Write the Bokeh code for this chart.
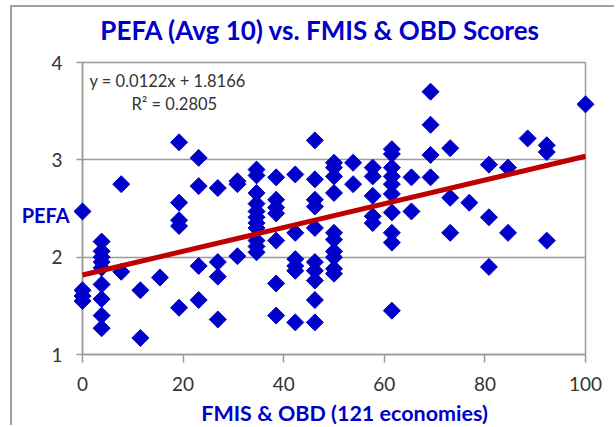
import numpy as np
from bokeh.plotting import figure
from bokeh.models import Range1d, FixedTicker, ColumnDataSource
from bokeh.embed import file_html
from bokeh.resources import INLINE
from bokeh.core.properties import value

# ---- data ----
fmis_obd = (
    [0.0] * 4 + [3.8] * 9 + [7.7] * 2 + [11.5] * 2 + [15.4] * 1 + [19.2] * 5 +
    [23.1] * 4 + [26.9] * 4 + [30.8] * 3 + [34.6] * 11 + [38.5] * 7 + [42.3] * 6 +
    [46.2] * 10 + [50.0] * 10 + [53.8] * 2 + [57.7] * 5 + [61.5] * 10 + [65.4] * 2 +
    [69.2] * 4 + [73.1] * 3 + [76.9] * 1 + [80.8] * 3 + [84.6] * 2 + [88.5] * 1 +
    [92.3] * 3 + [100.0] * 1
)
pefa = [
    2.47, 1.66, 1.60, 1.55,
    2.16, 2.06, 2.00, 1.95, 1.89, 1.72, 1.57, 1.40, 1.27,
    2.75, 1.85,
    1.66, 1.17,
    1.79,
    3.18, 2.56, 2.38, 2.32, 1.48,
    3.02, 2.73, 1.91, 1.56,
    2.71, 1.95, 1.80, 1.36,
    2.78, 2.75, 2.01,
    2.90, 2.84, 2.66, 2.55, 2.47, 2.41, 2.35, 2.30, 2.17, 2.11, 2.05,
    2.82, 2.59, 2.51, 2.45, 2.17, 1.73, 1.40,
    2.85, 2.25, 1.98, 1.91, 1.86, 1.33,
    3.20, 2.80, 2.59, 2.52, 2.30, 1.95, 1.86, 1.76, 1.56, 1.33,
    2.97, 2.92, 2.83, 2.66, 2.25, 2.18, 2.06, 2.00, 1.88, 1.83,
    2.97, 2.75,
    2.92, 2.83, 2.63, 2.42, 2.35,
    3.11, 3.06, 2.92, 2.83, 2.75, 2.65, 2.46, 2.25, 2.15, 1.45,
    2.82, 2.47,
    3.70, 3.36, 3.05, 2.82,
    3.12, 2.61, 2.25,
    2.56,
    2.95, 2.41, 1.90,
    2.92, 2.25,
    3.22,
    3.15, 3.08, 2.17,
    3.57,
]
trend_slope = 0.0122
trend_intercept = 1.8166
trend_x = [0, 100]
x_ticks = [0, 20, 40, 60, 80, 100]
y_ticks = [1, 2, 3, 4]
title_text = "PEFA (Avg 10) vs. FMIS & OBD Scores"
x_title = "FMIS & OBD (121 economies)"
y_title = "PEFA"
eq_text = "y = 0.0122x + 1.8166"
r2_text = "R² = 0.2805"

FONT = "Lato"
BLUE = "#0000C8"
GRID = "#9a9a9a"
TXT = "#333333"

p = figure(width=604, height=420, x_range=Range1d(0, 100), y_range=Range1d(1, 4),
           output_backend="svg", toolbar_location=None,
           min_border_left=70, min_border_right=31, min_border_top=55, min_border_bottom=73)
p.styles = {"margin-left": "10px", "margin-top": "5px",
            "border-left": "2px solid #a0a0a0", "border-top": "2px solid #a0a0a0"}
p.background_fill_color = "white"
p.border_fill_color = "white"
p.outline_line_color = GRID
p.outline_line_width = 1.5

p.xgrid.visible = False
p.ygrid.grid_line_color = GRID
p.ygrid.grid_line_width = 1.5
p.ygrid.ticker = FixedTicker(ticks=y_ticks)

for ax in (p.xaxis[0], p.yaxis[0]):
    ax.axis_line_color = GRID
    ax.axis_line_width = 1.5
    ax.major_tick_line_color = GRID
    ax.major_tick_line_width = 1.5
    ax.major_tick_in = 0
    ax.minor_tick_line_color = None
    ax.major_label_text_font = FONT
    ax.major_label_text_font_size = "19px"
    ax.major_label_text_color = TXT
p.xaxis.ticker = FixedTicker(ticks=x_ticks)
p.yaxis.ticker = FixedTicker(ticks=y_ticks)
p.xaxis.major_tick_out = 8
p.yaxis.major_tick_out = 6
p.xaxis.major_label_standoff = 14
p.yaxis.major_label_standoff = 14

src = ColumnDataSource(dict(x=fmis_obd, y=pefa))
p.scatter("x", "y", source=src, marker="square", size=12, angle=np.pi / 4,
          fill_color=BLUE, line_color=BLUE, level="overlay")

trend_y = [trend_slope * v + trend_intercept for v in trend_x]
p.line(trend_x, trend_y, line_color="#C00000", line_width=5, level="overlay")

def txt(x, y, s, size, color, bold=False, align="left"):
    p.text(x=[x], y=[y], text=[s], text_font=value(FONT), text_font_size=size,
           text_font_style="bold" if bold else "normal", text_color=color,
           text_align=align, text_baseline="middle", level="overlay")

txt(47.3, 4.329, title_text, "26px", BLUE, bold=True, align="center")
txt(52.1, 0.404, x_title, "21.5px", BLUE, bold=True, align="center")
txt(-12.1, 2.438, y_title, "20px", BLUE, bold=True)
txt(1.39, 3.815, eq_text, "16.5px", TXT)
txt(9.74, 3.569, r2_text, "16.5px", TXT)

open("out.html", "w").write(file_html(p, INLINE))
